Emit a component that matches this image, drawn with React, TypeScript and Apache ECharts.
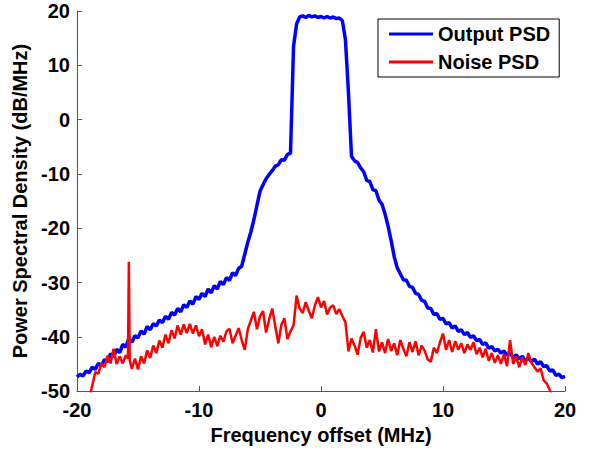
import React, { useEffect, useRef } from "react";
import * as echarts from "echarts";

// Frequency grid (MHz), 0.25 MHz spacing from -20 to 20
const freqStart = -20;
const freqStep = 0.25;

// Output PSD (dB/MHz), one value per grid point
const outputPSD = [
  -47.4, -46.9, -47.2, -46.3, -46.6, -45.6, -46.0, -44.9, -45.3, -44.2,
  -44.6, -43.1, -43.7, -42.3, -42.9, -41.4, -41.9, -40.3, -41.0, -39.8,
  -40.2, -38.9, -39.5, -38.1, -38.7, -37.6, -38.0, -36.9, -37.4, -36.2,
  -36.8, -35.5, -36.0, -34.8, -35.4, -34.1, -34.6, -33.4, -34.0, -32.6,
  -33.1, -32.0, -32.6, -31.2, -31.9, -30.6, -31.2, -29.8, -30.4, -29.1,
  -29.6, -28.2, -28.7, -27.4, -27.0, -24.8, -22.6, -20.7, -18.4, -15.8,
  -13.2, -12.0, -10.9, -10.1, -9.4, -8.6, -8.3, -7.4, -7.5, -6.4,
  -6.2, 13.5, 17.6, 18.9, 19.1, 18.8, 19.2, 18.9, 19.1, 18.8,
  19.0, 18.7, 19.0, 18.7, 18.9, 18.6, 18.7, 18.2, 14.8, 5.0,
  -6.8, -7.6, -7.9, -8.9, -9.6, -11.2, -11.4, -12.9, -13.1, -14.8,
  -15.6, -17.4, -19.6, -22.3, -25.2, -27.3, -28.4, -29.5, -29.6, -30.7,
  -30.9, -32.0, -32.2, -33.3, -33.5, -34.7, -34.8, -35.9, -35.7, -36.8,
  -36.6, -37.6, -37.4, -38.4, -38.0, -39.0, -38.7, -39.6, -39.2, -40.1,
  -39.8, -40.7, -40.5, -41.4, -41.1, -42.1, -41.8, -42.6, -42.3, -43.0,
  -42.6, -43.4, -43.0, -43.8, -43.3, -44.1, -43.6, -44.4, -43.9, -44.6,
  -44.1, -45.0, -44.6, -45.5, -45.3, -46.3, -46.1, -47.1, -46.9, -47.5,
  -47.3,
];

// Noise PSD (dB/MHz), one value per grid point (null = not drawn)
const noisePSD = [
  null, null, null, null,
  -51.5, -49.0, -46.5, -46.8, -44.9, -45.6, -43.5, -44.9, -42.2, -45.0,
  -43.6, -44.9, -43.4, -44.2,
  -45.9, -44.0, -46.0, -43.6, -44.9, -42.5, -43.9, -41.6, -43.0, -40.7,
  -42.0, -39.6, -41.2, -38.8, -40.3, -37.9, -39.6, -37.7, -39.3, -37.6,
  -39.4, -37.9, -39.9,
  -38.6, -41.4, -39.6, -41.9, -40.0, -41.7, -39.8, -40.9, -39.0, -38.5,
  -41.2, -39.8, -38.4, -40.6, -42.4, -38.6, -37.0, -35.4, -38.6, -36.2,
  -35.3, -39.2, -36.8, -34.8, -38.0, -41.2, -37.8, -36.6, -40.4, -39.0,
  -37.9,
  -32.4, -34.8, -35.6, -33.6, -35.2, -36.6, -34.2, -32.7, -34.6, -33.4,
  -35.9, -34.6, -34.2, -35.8, -34.9, -36.2, -37.3,
  -42.7, -40.3, -41.6, -43.3, -40.2, -39.1, -42.0, -40.6, -42.9, -38.6,
  -42.7, -41.0, -43.0, -40.4, -42.6, -41.2, -43.4, -40.6, -42.2, -43.6,
  -41.0, -42.8, -40.8, -43.4, -41.6, -42.6, -44.2, -44.6, -42.0, -43.0,
  -41.0, -39.4, -42.4, -40.6, -42.8, -40.8, -42.4, -41.2, -43.0, -41.4,
  -42.4, -41.0, -43.2, -42.0, -43.8, -42.2, -44.4, -43.0, -44.8, -43.4,
  -45.0, -43.2, -45.4, -40.6, -45.0, -43.6, -45.6, -43.8, -45.2, -43.0,
  -44.8, -45.6, -46.4, -45.8, -48.0, -48.6, -49.8, -51.5,
  null, null, null, null,
];

// Narrow spur in the noise PSD: [frequency, level]
const noiseSpur = [
  [-15.82, -44.0],
  [-15.75, -26.2],
  [-15.68, -44.3],
];

const xTicks = { min: -20, max: 20, interval: 10 };
const yTicks = { min: -50, max: 20, interval: 10 };

const FONT = "'Liberation Sans', Arial, Helvetica, sans-serif";

export default function App() {
  const ref = useRef<HTMLDivElement>(null);

  useEffect(() => {
    if (!ref.current) return;
    const chart = echarts.init(ref.current, null, { renderer: "svg" });

    const outData = outputPSD.map((v, i) => [freqStart + i * freqStep, v]);
    const spurFreqs = noiseSpur.map((p) => p[0]);
    const noiseData: any[] = [];
    noisePSD.forEach((v, i) => {
      const f = freqStart + i * freqStep;
      if (v === null) return;
      if (spurFreqs.some((s) => Math.abs(s - f) < 0.1)) return;
      noiseData.push([f, v]);
    });
    noiseSpur.forEach((p) => noiseData.push(p));
    noiseData.sort((a, b) => a[0] - b[0]);

    const axisColor = "#555";
    const labelStyle = {
      fontFamily: FONT,
      fontWeight: "bold" as const,
      fontSize: 20,
      color: "#000",
    };

    chart.setOption({
      animation: false,
      backgroundColor: "#fff",
      grid: { left: 77, right: 25, top: 11, bottom: 57, containLabel: false },
      legend: {
        orient: "vertical",
        left: 378,
        top: 19,
        padding: [5, 9, 5, 11],
        itemGap: 8,
        itemWidth: 44,
        itemHeight: 3,
        icon: "rect",
        borderColor: "#000",
        borderWidth: 1,
        borderRadius: 0,
        backgroundColor: "#fff",
        textStyle: { ...labelStyle },
        data: ["Output PSD", "Noise PSD"],
      },
      xAxis: {
        type: "value",
        min: xTicks.min,
        max: xTicks.max,
        interval: xTicks.interval,
        name: "Frequency offset (MHz)",
        nameLocation: "middle",
        nameGap: 32,
        nameTextStyle: { ...labelStyle },
        axisLine: { onZero: false, lineStyle: { color: axisColor, width: 1 } },
        axisTick: { inside: true, length: 5, lineStyle: { color: axisColor } },
        axisLabel: { ...labelStyle, margin: 9 },
        splitLine: { show: false },
      },
      yAxis: {
        type: "value",
        min: yTicks.min,
        max: yTicks.max,
        interval: yTicks.interval,
        name: "Power Spectral Density (dB/MHz)",
        nameLocation: "middle",
        nameGap: 43,
        nameTextStyle: { ...labelStyle },
        axisLine: { show: true, onZero: false, lineStyle: { color: axisColor, width: 1 } },
        axisTick: { show: true, inside: true, length: 5, lineStyle: { color: axisColor } },
        axisLabel: { ...labelStyle, margin: 7 },
        splitLine: { show: false },
      },
      series: [
        {
          name: "Output PSD",
          type: "line",
          data: outData,
          symbol: "none",
          color: "#0000ff",
          lineStyle: { color: "#0000ff", width: 3.5 },
          clip: true,
        },
        {
          name: "Noise PSD",
          type: "line",
          data: noiseData,
          symbol: "none",
          color: "#ff0000",
          lineStyle: { color: "#ff0000", width: 2.5 },
          clip: true,
        },
      ],
    });

    return () => chart.dispose();
  }, []);

  return (
    <div
      ref={ref}
      style={{ position: "fixed", left: 0, top: 0, width: 590, height: 450 }}
    />
  );
}
